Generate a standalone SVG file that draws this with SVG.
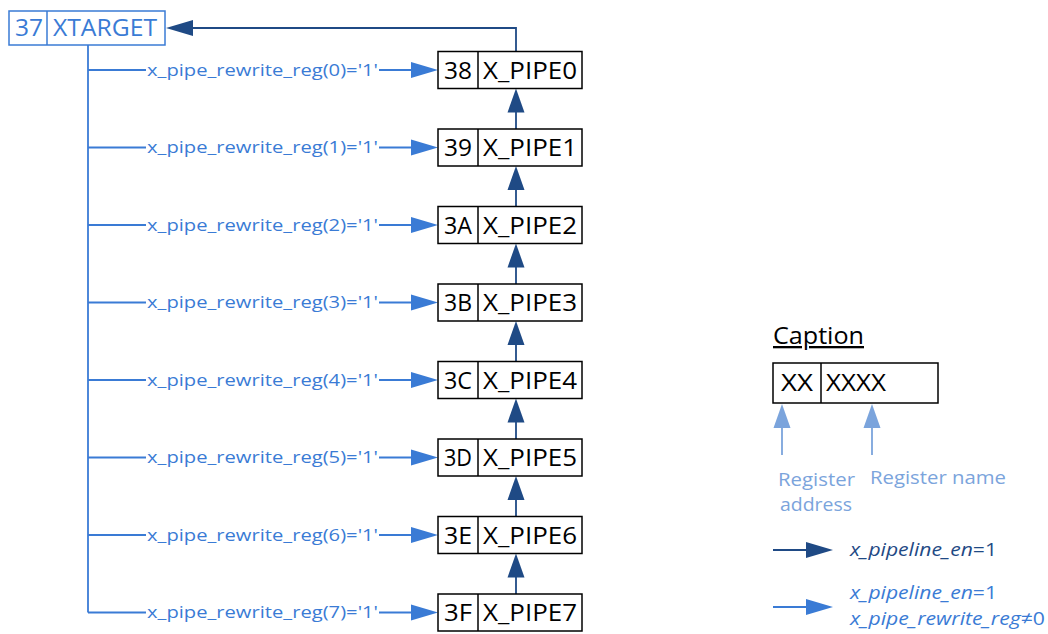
<svg xmlns="http://www.w3.org/2000/svg" width="1048" height="634" viewBox="0 0 1048 634">
<style>
.box{fill:#fff;stroke:#000;stroke-width:1.5}
.tbox{fill:#fff;stroke:#3a7bd5;stroke-width:1.5}
.bt{font-family:"Open Sans","Noto Sans",sans-serif;font-size:23px;fill:#000}
.tt{font-family:"Open Sans","Noto Sans",sans-serif;font-size:23px;fill:#3a7bd5}
.lb{font-family:"Open Sans","Noto Sans",sans-serif;font-size:16px;fill:#3a7bd5}
.lt{stroke:#3a7bd5;stroke-width:1.8;fill:none}
.dk{stroke:#1f4a85;stroke-width:1.8;fill:none}
.ah{fill:#3a7bd5}
.dh{fill:#1f4a85}
.pa{fill:#7ba4dc}
.pl{stroke:#7ba4dc;stroke-width:1.8}
.cap{font-family:"Open Sans","Noto Sans",sans-serif;font-size:19px;fill:#7ba4dc}
.it{font-family:"Open Sans","Noto Sans",sans-serif;font-size:19px;font-style:italic}
</style>
<defs>
<polygon id="ar" points="0,0 -27,-8 -27,8"/>
<polygon id="au" points="0,0 -8.5,24 8.5,24"/>
</defs>
<g id="connectors">
<path class="lt" d="M88,45 V612.5"/>
<path class="dk" d="M516,51.5 V28 H190"/>
<use href="#ar" class="dh" transform="translate(166,28) rotate(180)"/>
<g id="branches">
<path class="lt" d="M88,70 H146 M379,70 H412"/><use href="#ar" class="ah" transform="translate(438,70)"/>
<path class="lt" d="M88,147.5 H146 M379,147.5 H412"/><use href="#ar" class="ah" transform="translate(438,147.5)"/>
<path class="lt" d="M88,225 H146 M379,225 H412"/><use href="#ar" class="ah" transform="translate(438,225)"/>
<path class="lt" d="M88,302.5 H146 M379,302.5 H412"/><use href="#ar" class="ah" transform="translate(438,302.5)"/>
<path class="lt" d="M88,380 H146 M379,380 H412"/><use href="#ar" class="ah" transform="translate(438,380)"/>
<path class="lt" d="M88,457.5 H146 M379,457.5 H412"/><use href="#ar" class="ah" transform="translate(438,457.5)"/>
<path class="lt" d="M88,535 H146 M379,535 H412"/><use href="#ar" class="ah" transform="translate(438,535)"/>
<path class="lt" d="M88,612.5 H146 M379,612.5 H412"/><use href="#ar" class="ah" transform="translate(438,612.5)"/>
<g text-anchor="middle">
<text class="lb" x="262.5" y="75.5" textLength="231" lengthAdjust="spacingAndGlyphs">x_pipe_rewrite_reg(0)='1'</text>
<text class="lb" x="262.5" y="153" textLength="231" lengthAdjust="spacingAndGlyphs">x_pipe_rewrite_reg(1)='1'</text>
<text class="lb" x="262.5" y="230.5" textLength="231" lengthAdjust="spacingAndGlyphs">x_pipe_rewrite_reg(2)='1'</text>
<text class="lb" x="262.5" y="308" textLength="231" lengthAdjust="spacingAndGlyphs">x_pipe_rewrite_reg(3)='1'</text>
<text class="lb" x="262.5" y="385.5" textLength="231" lengthAdjust="spacingAndGlyphs">x_pipe_rewrite_reg(4)='1'</text>
<text class="lb" x="262.5" y="463" textLength="231" lengthAdjust="spacingAndGlyphs">x_pipe_rewrite_reg(5)='1'</text>
<text class="lb" x="262.5" y="540.5" textLength="231" lengthAdjust="spacingAndGlyphs">x_pipe_rewrite_reg(6)='1'</text>
<text class="lb" x="262.5" y="618" textLength="231" lengthAdjust="spacingAndGlyphs">x_pipe_rewrite_reg(7)='1'</text>
</g>
</g>
<g id="chain">
<path class="dk" d="M516,111 V129"/><use href="#au" class="dh" transform="translate(516,88.5)"/>
<path class="dk" d="M516,188.5 V206.5"/><use href="#au" class="dh" transform="translate(516,166)"/>
<path class="dk" d="M516,266 V284"/><use href="#au" class="dh" transform="translate(516,243.5)"/>
<path class="dk" d="M516,343.5 V361.5"/><use href="#au" class="dh" transform="translate(516,321)"/>
<path class="dk" d="M516,421 V439"/><use href="#au" class="dh" transform="translate(516,398.5)"/>
<path class="dk" d="M516,498.5 V516.5"/><use href="#au" class="dh" transform="translate(516,476)"/>
<path class="dk" d="M516,576 V594"/><use href="#au" class="dh" transform="translate(516,553.5)"/>
</g>
</g>
<g id="xtarget">
<rect class="tbox" x="9" y="11" width="156" height="34"/>
<line x1="47" y1="11" x2="47" y2="45" stroke="#3a7bd5" stroke-width="1.5"/>
<text class="tt" x="15" y="36" textLength="28" lengthAdjust="spacingAndGlyphs">37</text>
<text class="tt" x="53" y="36" textLength="104" lengthAdjust="spacingAndGlyphs">XTARGET</text>
</g>
<g id="xpipe0"><rect class="box" x="438" y="51.5" width="144" height="37"/><line x1="478" y1="51.5" x2="478" y2="88.5" stroke="#000" stroke-width="1.5"/><text class="bt" x="444" y="78.5" textLength="28" lengthAdjust="spacingAndGlyphs">38</text><text class="bt" x="483" y="78.5" textLength="94" lengthAdjust="spacingAndGlyphs">X_PIPE0</text></g>
<g id="xpipe1"><rect class="box" x="438" y="129" width="144" height="37"/><line x1="478" y1="129" x2="478" y2="166" stroke="#000" stroke-width="1.5"/><text class="bt" x="444" y="156" textLength="28" lengthAdjust="spacingAndGlyphs">39</text><text class="bt" x="483" y="156" textLength="94" lengthAdjust="spacingAndGlyphs">X_PIPE1</text></g>
<g id="xpipe2"><rect class="box" x="438" y="206.5" width="144" height="37"/><line x1="478" y1="206.5" x2="478" y2="243.5" stroke="#000" stroke-width="1.5"/><text class="bt" x="444" y="233.5" textLength="28" lengthAdjust="spacingAndGlyphs">3A</text><text class="bt" x="483" y="233.5" textLength="94" lengthAdjust="spacingAndGlyphs">X_PIPE2</text></g>
<g id="xpipe3"><rect class="box" x="438" y="284" width="144" height="37"/><line x1="478" y1="284" x2="478" y2="321" stroke="#000" stroke-width="1.5"/><text class="bt" x="444" y="311" textLength="28" lengthAdjust="spacingAndGlyphs">3B</text><text class="bt" x="483" y="311" textLength="94" lengthAdjust="spacingAndGlyphs">X_PIPE3</text></g>
<g id="xpipe4"><rect class="box" x="438" y="361.5" width="144" height="37"/><line x1="478" y1="361.5" x2="478" y2="398.5" stroke="#000" stroke-width="1.5"/><text class="bt" x="444" y="388.5" textLength="28" lengthAdjust="spacingAndGlyphs">3C</text><text class="bt" x="483" y="388.5" textLength="94" lengthAdjust="spacingAndGlyphs">X_PIPE4</text></g>
<g id="xpipe5"><rect class="box" x="438" y="439" width="144" height="37"/><line x1="478" y1="439" x2="478" y2="476" stroke="#000" stroke-width="1.5"/><text class="bt" x="444" y="466" textLength="28" lengthAdjust="spacingAndGlyphs">3D</text><text class="bt" x="483" y="466" textLength="94" lengthAdjust="spacingAndGlyphs">X_PIPE5</text></g>
<g id="xpipe6"><rect class="box" x="438" y="516.5" width="144" height="37"/><line x1="478" y1="516.5" x2="478" y2="553.5" stroke="#000" stroke-width="1.5"/><text class="bt" x="444" y="543.5" textLength="28" lengthAdjust="spacingAndGlyphs">3E</text><text class="bt" x="483" y="543.5" textLength="94" lengthAdjust="spacingAndGlyphs">X_PIPE6</text></g>
<g id="xpipe7"><rect class="box" x="438" y="594" width="144" height="37"/><line x1="478" y1="594" x2="478" y2="631" stroke="#000" stroke-width="1.5"/><text class="bt" x="444" y="621" textLength="28" lengthAdjust="spacingAndGlyphs">3F</text><text class="bt" x="483" y="621" textLength="94" lengthAdjust="spacingAndGlyphs">X_PIPE7</text></g>
<g id="caption">
<text x="773" y="344" font-family="Open Sans,Noto Sans,sans-serif" font-size="23" fill="#000" text-decoration="underline" textLength="91" lengthAdjust="spacingAndGlyphs">Caption</text>
<rect class="box" x="773" y="363" width="165" height="40"/>
<line x1="821" y1="363" x2="821" y2="403" stroke="#000" stroke-width="1.5"/>
<text class="bt" x="781" y="391" textLength="32" lengthAdjust="spacingAndGlyphs">XX</text>
<text class="bt" x="826" y="391" textLength="60" lengthAdjust="spacingAndGlyphs">XXXX</text>
<line class="pl" x1="782" y1="426" x2="782" y2="455"/><use href="#au" class="pa" transform="translate(782,404)"/>
<line class="pl" x1="872" y1="426" x2="872" y2="455"/><use href="#au" class="pa" transform="translate(872,404)"/>
<text class="cap" x="778" y="486" textLength="77" lengthAdjust="spacingAndGlyphs">Register</text>
<text class="cap" x="780" y="511" textLength="72" lengthAdjust="spacingAndGlyphs">address</text>
<text class="cap" x="870" y="484" textLength="136" lengthAdjust="spacingAndGlyphs">Register name</text>
<line class="dk" x1="773" y1="550" x2="808" y2="550"/><use href="#ar" class="dh" transform="translate(833,550)"/>
<text class="it" x="850" y="556" fill="#1f4a85" textLength="147" lengthAdjust="spacingAndGlyphs">x_pipeline_en<tspan font-style="normal">=1</tspan></text>
<line class="lt" x1="773" y1="607" x2="808" y2="607"/><use href="#ar" class="ah" transform="translate(833,607)"/>
<text class="it" x="850" y="599" fill="#3a7bd5" textLength="147" lengthAdjust="spacingAndGlyphs">x_pipeline_en<tspan font-style="normal">=1</tspan></text>
<text class="it" x="850" y="625" fill="#3a7bd5" textLength="195" lengthAdjust="spacingAndGlyphs">x_pipe_rewrite_reg<tspan font-style="normal">≠0</tspan></text>
</g>
</svg>
